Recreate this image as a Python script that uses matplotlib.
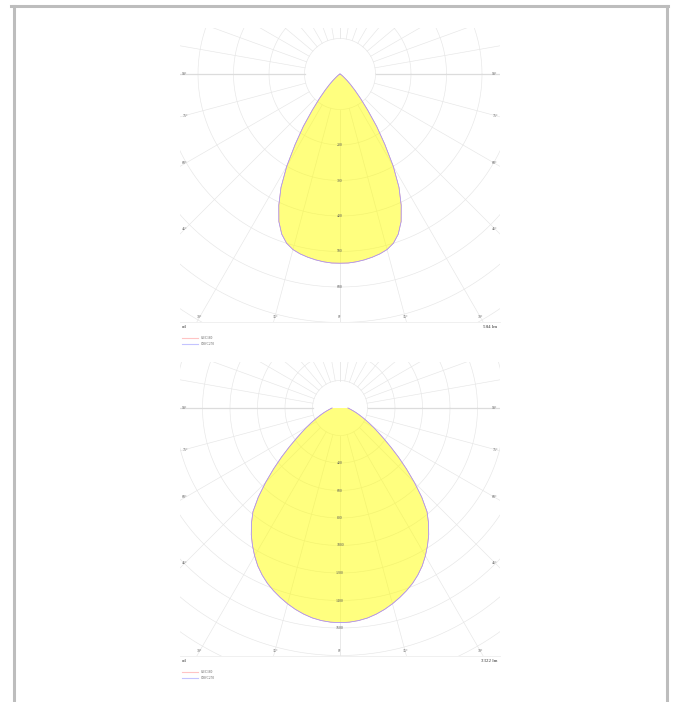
import numpy as np
import matplotlib.pyplot as plt
from matplotlib.lines import Line2D

W, H = 673, 702

# gamma angles (deg from nadir) and intensities in cd
angles = [0, 2.5, 5, 7.5, 10, 12.5, 15, 17.5, 20, 22.5, 25, 27.5, 30, 32.5, 35, 37.5,
          40, 42.5, 45, 47.5, 50, 52.5, 55, 57.5, 60, 62.5, 65, 67.5, 70, 72.5, 75,
          77.5, 80, 82.5, 85, 87.5, 90]
c0_c180_a = [533, 533, 531, 528, 524, 519, 512, 500, 480, 450, 408, 360, 300, 235, 180, 128,
             90, 62, 42, 27, 16, 10, 6, 4, 2, 1, 0, 0, 0, 0, 0,
             0, 0, 0, 0, 0, 0]
c90_c270_a = [533, 533, 531, 528, 524, 519, 512, 500, 480, 450, 408, 360, 300, 235, 180, 128,
              90, 62, 42, 27, 16, 10, 6, 4, 2, 1, 0, 0, 0, 0, 0,
              0, 0, 0, 0, 0, 0]
c0_c180_b = [1561, 1559, 1552, 1540, 1522, 1500, 1474, 1445, 1414, 1380, 1340, 1295, 1242,
             1185, 1125, 1058, 985, 880, 765, 655, 555, 465, 390, 330, 282, 240, 205, 176,
             152, 132, 115, 100, 88, 78, 70, 63, 58]
c90_c270_b = [1561, 1559, 1552, 1540, 1522, 1500, 1474, 1445, 1414, 1380, 1340, 1295, 1242,
              1185, 1125, 1058, 985, 880, 765, 655, 555, 465, 390, 330, 282, 240, 205, 176,
              152, 132, 115, 100, 88, 78, 70, 63, 58]

ring_labels_a = [200, 300, 400, 500, 600]
ring_labels_b = [400, 600, 800, 1000, 1200, 1400, 1600]
side_labels = [90, 75, 60, 45]
bottom_labels = [30, 15, 0]
plane_names = ["C0/C180", "C90/C270"]
flux = ["584 lm", "3322 lm"]

GRID = '#e6e6e6'
TXT = '#555555'

fig = plt.figure(figsize=(W / 100, H / 100), dpi=100)


def fx(x):
    return x / W


def fy(y):
    return 1 - y / H


def diagram(top, scale, step, rmax, labels, c0, c90, flux_txt):
    # frame 320x294 px, centre 160 px from left, 46 px from top
    ax = fig.add_axes([fx(180), fy(top + 294), 320 / W, 294 / H])
    ax.set_xlim(-160 / scale, 160 / scale)
    ax.set_ylim(-248 / scale, 46 / scale)
    ax.axis('off')

    t = np.linspace(0, 2 * np.pi, 400)
    for r in range(step, rmax + 1, step):
        ax.plot(r * np.cos(t), r * np.sin(t), color=GRID, lw=0.45, zorder=1)

    far = rmax * 2
    for a in list(range(0, 91, 15)) + list(range(100, 181, 10)):
        for sgn in (1, -1):
            th = np.radians(a) * sgn
            lw, col = (0.9, '#dcdcdc') if a == 90 else (0.45, GRID)
            ax.plot([step * np.sin(th), far * np.sin(th)],
                    [-step * np.cos(th), -far * np.cos(th)],
                    color=col, lw=lw, zorder=1)

    g = np.radians(angles)
    for vals, col in ((c0, '#ff9a9a'), (c90, '#9a9aff')):
        v = np.array(vals, dtype=float)
        xs = np.concatenate([-(v * np.sin(g))[::-1], v * np.sin(g)])
        ys = np.concatenate([-(v * np.cos(g))[::-1], -v * np.cos(g)])
        if col == '#ff9a9a':
            ax.fill(xs, ys, color='#ffff00', alpha=0.5, lw=0, zorder=2)
        ax.plot(xs, ys, color=col, lw=0.5, zorder=3)

    for r in labels:
        ax.text(0, -r, str(r), fontsize=2.8, color=TXT, ha='center', va='center',
                family='Liberation Serif', zorder=4)

    for a in side_labels:
        dy = 0 if a == 90 else 155 / np.tan(np.radians(a))
        for sgn in (-1, 1):
            ax.text(sgn * 155 / scale, -dy / scale, f"{a}°", fontsize=2.8, color=TXT,
                    ha='center', va='center', family='Liberation Serif')
    for a in bottom_labels:
        dx = 243 * np.tan(np.radians(a))
        for sgn in ((-1, 1) if a else (1,)):
            ax.text(sgn * dx / scale, -243 / scale, f"{a}°", fontsize=2.8, color=TXT,
                    ha='center', va='center', family='Liberation Serif')

    fig.add_artist(Line2D([fx(180), fx(500)], [fy(top + 294)] * 2, color='#eeeeee', lw=0.6))

    base = top + 294
    fig.text(fx(182), fy(base + 4.5), "cd", fontsize=3.6, color='#333333',
             ha='left', va='center', family='Liberation Serif')
    fig.text(fx(497), fy(base + 4.5), flux_txt, fontsize=3.6, color='#333333',
             ha='right', va='center', family='Liberation Serif')
    for i, (name, col) in enumerate(zip(plane_names, ('#ffc4c4', '#c4c4ff'))):
        yy = base + 16.3 + i * 5.8
        fig.add_artist(Line2D([fx(182), fx(198)], [fy(yy)] * 2, color=col, lw=0.8))
        fig.text(fx(201), fy(yy), name, fontsize=2.4, color=TXT, ha='left',
                 va='center', family='Liberation Serif')


diagram(28, 0.355, 100, 900, ring_labels_a, c0_c180_a, c90_c270_a, flux[0])
diagram(362, 0.1375, 200, 2000, ring_labels_b, c0_c180_b, c90_c270_b, flux[1])

# page border
for xs, ys in (([11.5, 668], [6, 6]), ([13.5, 13.5], [6, 702]), ([666.5, 666.5], [6, 702])):
    fig.add_artist(Line2D([fx(x) for x in xs], [fy(y) for y in ys], color='#bdbdbd', lw=2.2))

fig.savefig('out.png', dpi=100)
